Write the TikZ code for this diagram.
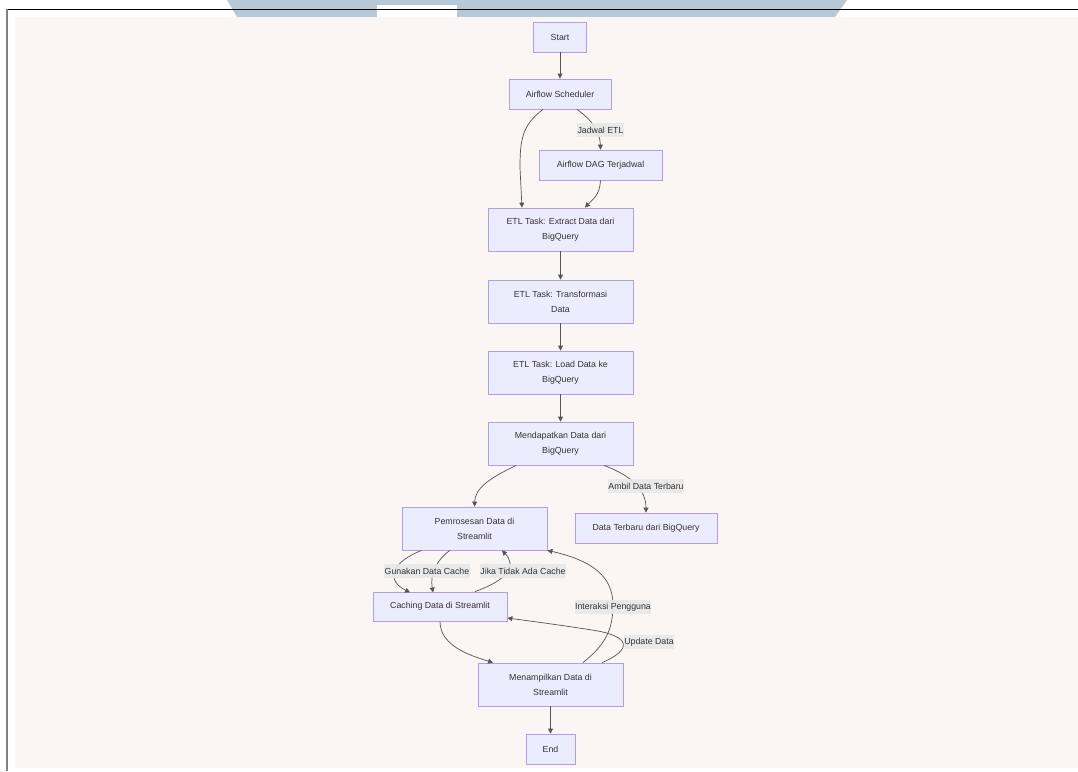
\documentclass[tikz,border=0pt]{standalone}
\usepackage{fontspec}
\setmainfont{Liberation Sans}
\usetikzlibrary{arrows.meta,calc}
\definecolor{boxfill}{HTML}{ECECFF}
\definecolor{boxline}{HTML}{B49CE8}
\definecolor{edgecol}{HTML}{555555}
\definecolor{txtcol}{HTML}{333333}
\definecolor{lblfill}{HTML}{E8E8E8}
\definecolor{bgbeige}{HTML}{FAF6F3}
\definecolor{wmblue}{HTML}{B7C9D6}
\begin{document}
\begin{tikzpicture}[x=0.025cm,y=-0.025cm,
  box/.style={draw=boxline,fill=boxfill,line width=0.6pt,text=txtcol,inner sep=0pt,
    align=center,minimum height=0.75cm,font=\fontsize{6.25}{10.7}\selectfont},
  widebox/.style={box,minimum width=3.625cm,minimum height=1.075cm},
  lbl/.style={fill=lblfill,fill opacity=0.9,text opacity=1,text=txtcol,inner xsep=0.4pt,inner ysep=0pt,
    minimum height=0.35cm,font=\fontsize{6.25}{7.5}\selectfont},
  flow/.style={draw=edgecol,line width=0.5pt,-{Triangle[length=3.5pt,width=3.5pt]}}]
 \useasboundingbox (0,0) rectangle (1078,771);
 % frame and background
 \fill[wmblue](227,0)--(237,17)--(835,17)--(847,0)--cycle;
 \fill[white](377,5) rectangle (457,17);
 \fill[bgbeige](15,17) rectangle (1078,768);
 \draw[black,line width=0.7pt](7,9)--(1078,9);
 \draw[gray,line width=1.4pt](7,9)--(7,771);
 % nodes
 \node[box,minimum width=1.325cm] (start) at (560,37) {Start};
 \node[box,minimum width=2.55cm] (sched) at (560,94) {Airflow Scheduler};
 \node[box,minimum width=3.075cm] (dag) at (600.5,165) {Airflow DAG Terjadwal};
 \node[widebox] (extract) at (560.5,229.5) {ETL Task: Extract Data dari\\BigQuery};
 \node[widebox] (transform) at (560.5,301.5) {ETL Task: Transformasi\\Data};
 \node[widebox] (load) at (560.5,372.5) {ETL Task: Load Data ke\\BigQuery};
 \node[widebox] (fetch) at (560.5,443.5) {Mendapatkan Data dari\\BigQuery};
 \node[box,minimum width=3.55cm] (latest) at (646,528) {Data Terbaru dari BigQuery};
 \node[widebox] (process) at (474.5,528.5) {Pemrosesan Data di\\Streamlit};
 \node[box,minimum width=3.35cm,minimum height=0.725cm] (cache) at (440,606.5) {Caching Data di Streamlit};
 \node[widebox] (show) at (550.5,684.5) {Menampilkan Data di\\Streamlit};
 \node[box,minimum width=1.225cm] (end) at (550.5,749) {End};
 % connectors
 \draw[flow](start)--(sched);
 \draw[flow]($(sched.south)+(-17,0)$) .. controls (522,125) and (520,140) .. (520,168)
   -- ($(extract.north)+(-38.5,0)$);
 \draw[flow]($(sched.south)+(17,0)$) .. controls (592,120) and (600,132) .. (dag.north)
   node[lbl] at (600.5,130) {Jadwal ETL};
 \draw[flow](dag.south) .. controls (600,195) and (592,200) .. ($(extract.north)+(24.5,0)$);
 \draw[flow](extract)--(transform);
 \draw[flow](transform)--(load);
 \draw[flow](load)--(fetch);
 \draw[flow]($(fetch.south)+(-44.5,0)$) .. controls (490,478) and (475,488) .. (process.north);
 \draw[flow]($(fetch.south)+(43.5,0)$) .. controls (632,476) and (646,490) .. (latest.north)
   node[lbl] at (646,486) {Ambil Data Terbaru};
 \draw[flow]($(process.south)+(-53,0)$) .. controls (392,562) and (385,580) .. ($(cache.south)+(-30,-29)$);
 \draw[flow]($(process.south)+(-24.5,0)$) .. controls (436,560) and (430,575) .. ($(cache.south)+(-7,-29)$)
   node[lbl] at (427,571) {Gunakan Data Cache};
 \draw[flow]($(cache.north)+(35,0)$) .. controls (510,579) and (516,565) .. ($(process.south)+(27.5,0)$)
   node[lbl] at (523,571) {Jika Tidak Ada Cache};
 \draw[flow]($(show.north)+(32.5,0)$) .. controls (605,645) and (613,630) .. (613,605)
   .. controls (613,575) and (590,560) .. (process.south east)
   node[lbl] at (613,607) {Interaksi Pengguna};
 \draw[flow](cache.south) .. controls (440,645) and (468,655) .. ($(show.north)+(-57.5,0)$);
 \draw[flow]($(show.north)+(51.5,0)$) .. controls (632,650) and (632,636) .. (592,630)
   .. controls (560,625) and (530,621) .. ($(cache.east)+(0,11.5)$);
 \node[lbl] (updlbl) at (649,642) {Update Data};
 \draw[flow](show)--(end);
\end{tikzpicture}
\end{document}
